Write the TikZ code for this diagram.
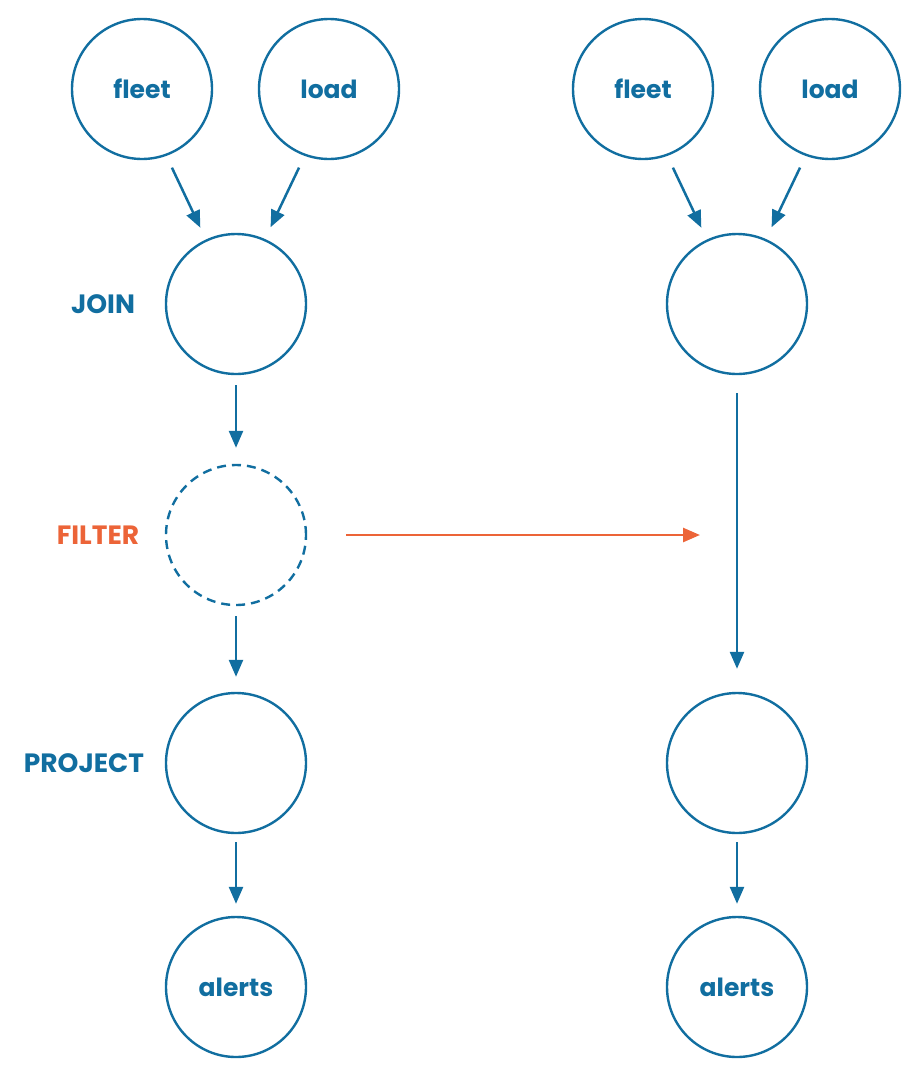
\documentclass[tikz,border=0pt]{standalone}
\usepackage{fontspec}
\setmainfont{Poppins}
\usetikzlibrary{arrows.meta}
\definecolor{cblue}{RGB}{17,110,160}
\definecolor{corange}{RGB}{236,100,56}
\begin{document}
\begin{tikzpicture}[x=1pt,y=-1pt,
  nd/.style={circle,draw=cblue,line width=2.4pt,minimum size=140pt,inner sep=0pt,
    text=cblue,font=\fontsize{25}{28}\selectfont\bfseries},
  dnd/.style={nd,dashed,dash pattern=on 9pt off 6pt},
  lbl/.style={text=cblue,font=\fontsize{26.5}{30}\selectfont\bfseries,inner sep=0pt},
  arr/.style={draw=cblue,line width=2.5pt,-{Triangle[length=17pt,width=14pt]}},
  oarr/.style={draw=corange,line width=2.6pt,-{Triangle[length=17pt,width=14pt]}}]
\useasboundingbox (0,0) rectangle (911,1085);
% left column
\node[nd] (fl) at (142,89) {fleet};
\node[nd] (ll) at (329,89) {load};
\node[nd] (jl) at (236,304) {};
\node[dnd] (fil) at (236,535) {};
\node[nd] (pl) at (236,763) {};
\node[nd] (al) at (236,987) {alerts};
\node[lbl] (tj) at (103,304) {JOIN};
\node[lbl,text=corange] (tf) at (98,535) {FILTER};
\node[lbl] (tp) at (84,763) {PROJECT};
% right column
\node[nd] (fr) at (643,89) {fleet};
\node[nd] (lr) at (830,89) {load};
\node[nd] (jr) at (737,304) {};
\node[nd] (pr) at (737,763) {};
\node[nd] (ar) at (737,987) {alerts};
\coordinate (oe) at (700,535);
% arrows left
\draw[arr,shorten <=13pt,shorten >=13pt] (fl.-70) -- (jl.115);
\draw[arr,shorten <=13pt,shorten >=13pt] (ll.-110) -- (jl.66);
\draw[arr,shorten <=10pt,shorten >=16pt] (jl.south) -- (fil.north);
\draw[arr,shorten <=10pt,shorten >=15pt] (fil.south) -- (pl.north);
\draw[arr,shorten <=8pt,shorten >=12pt] (pl.south) -- (al.north);
% arrows right
\draw[arr,shorten <=13pt,shorten >=13pt] (fr.-70) -- (jr.115);
\draw[arr,shorten <=13pt,shorten >=13pt] (lr.-110) -- (jr.66);
\draw[arr,shorten <=18pt,shorten >=23pt] (jr.south) -- (pr.north);
\draw[arr,shorten <=8pt,shorten >=12pt] (pr.south) -- (ar.north);
% filter push
\draw[oarr,shorten <=39pt] (fil.east) -- (oe);
\end{tikzpicture}
\end{document}
